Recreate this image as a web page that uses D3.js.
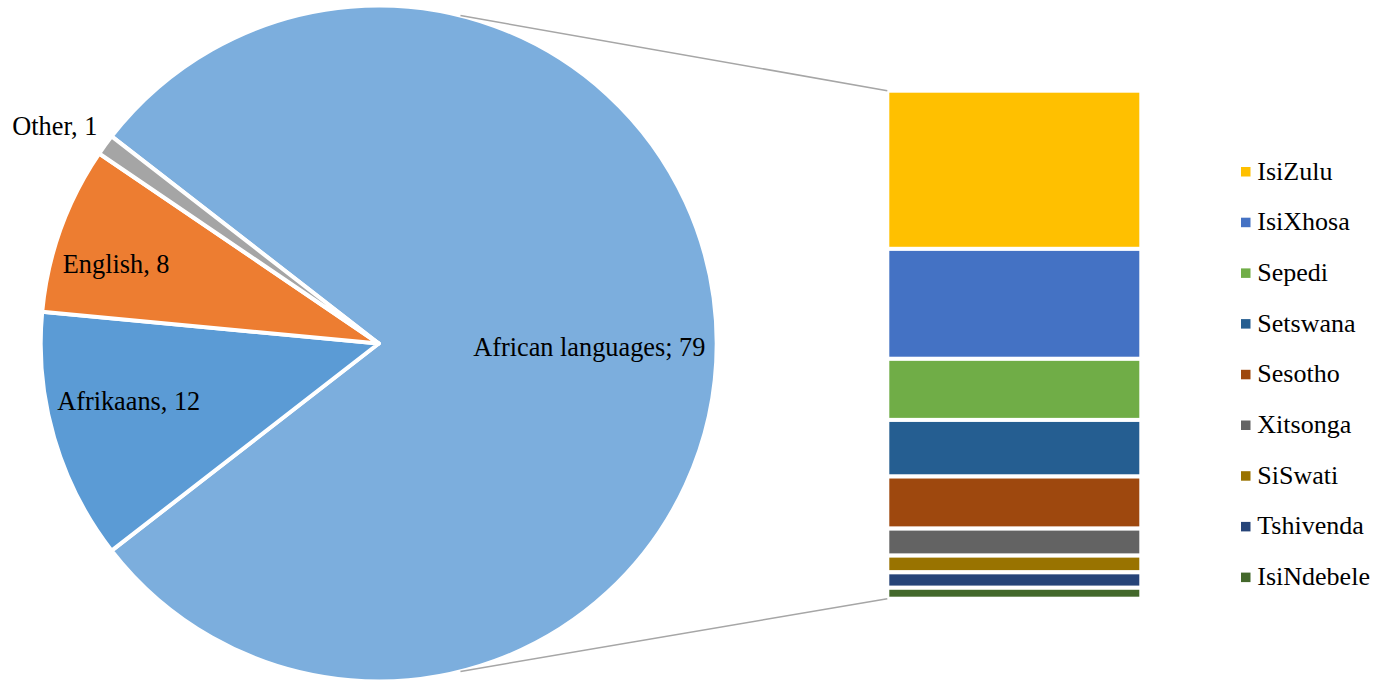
<!DOCTYPE html>
<html>
<head>
<meta charset="utf-8">
<script src="https://cdn.jsdelivr.net/npm/d3@7/dist/d3.min.js"></script>
<style>
  html, body { margin: 0; padding: 0; background: #fff; }
  svg { display: block; font-family: "Liberation Serif", "Times New Roman", serif; }
</style>
</head>
<body>
<svg id="chart" width="1378" height="681"></svg>
<script>
// Home language shares (%), main pie
const groups = ["African languages", "Afrikaans", "English", "Other"];
const groupValues = [79, 12, 8, 1];
const groupSeparators = [";", ",", ",", ","];
const groupColors = ["#7caedd", "#5b9bd5", "#ed7d31", "#a5a5a5"];

// Breakdown of the African languages slice, stacked bar
const languages = ["IsiZulu", "IsiXhosa", "Sepedi", "Setswana", "Sesotho", "Xitsonga", "SiSwati", "Tshivenda", "IsiNdebele"];
const languageValues = [24.6, 17.1, 9.5, 8.8, 8.1, 4.2, 2.6, 2.4, 1.7];
const languageColors = ["#ffc000", "#4472c4", "#70ad47", "#255e91", "#9e480e", "#636363", "#997300", "#264478", "#43682b"];

const svg = d3.select("#chart");

// ---- pie ----
const cx = 378.7, cy = 343.5, R = 338;
const africanShare = groupValues[0] / d3.sum(groupValues);
// rotate so the African slice is centred on 3 o'clock, facing the bar
const start = Math.PI / 2 - africanShare * Math.PI;
const pie = d3.pie().sort(null).value(d => d).startAngle(start).endAngle(start + 2 * Math.PI);
const arcs = pie(groupValues);
const arc = d3.arc().innerRadius(0).outerRadius(R);

const gPie = svg.append("g").attr("transform", `translate(${cx},${cy})`);
gPie.selectAll("path").data(arcs).join("path")
  .attr("d", arc)
  .attr("fill", (d, i) => groupColors[i])
  .attr("stroke", "#fff")
  .attr("stroke-width", 4)
  .attr("stroke-linejoin", "round");

// label placement: radius factor, angular nudge (deg), anchor
const labelPlace = [
  { k: 0.623, da: 0, anchor: "middle" },
  { k: 0.757, da: 3.9, anchor: "middle" },
  { k: 0.815, da: -2.2, anchor: "middle" },
  { k: 1.059, da: 2.2, anchor: "end" }
];
gPie.selectAll("text").data(arcs).join("text")
  .each(function (d, i) {
    const p = labelPlace[i];
    const a = (d.startAngle + d.endAngle) / 2 + p.da * Math.PI / 180;
    d3.select(this)
      .attr("x", Math.sin(a) * R * p.k)
      .attr("y", -Math.cos(a) * R * p.k)
      .attr("text-anchor", p.anchor);
  })
  .attr("dy", "0.47em")
  .attr("font-size", 26.3)
  .attr("fill", "#000")
  .text((d, i) => `${groups[i]}${groupSeparators[i]} ${groupValues[i]}`);

// ---- stacked bar ----
const barX = 887.3, barW = 254;
const y = d3.scaleLinear().domain([0, d3.sum(languageValues)]).range([90.7, 598.7]);
const stacked = [];
let acc = 0;
languageValues.forEach((v, i) => { stacked.push({ i, y0: acc, y1: acc + v }); acc += v; });

svg.append("g").selectAll("rect").data(stacked).join("rect")
  .attr("x", barX)
  .attr("width", barW)
  .attr("y", d => y(d.y0))
  .attr("height", d => y(d.y1) - y(d.y0))
  .attr("fill", d => languageColors[d.i])
  .attr("stroke", "#fff")
  .attr("stroke-width", 4);

// ---- connector lines from the African slice to the bar ----
const joinAngle = 14 * Math.PI / 180;
const connectors = [
  { x1: cx + Math.sin(joinAngle) * R, y1: cy - Math.cos(joinAngle) * R, x2: barX, y2: y(0) },
  { x1: cx + Math.sin(Math.PI - joinAngle) * R, y1: cy - Math.cos(Math.PI - joinAngle) * R, x2: barX, y2: y(d3.sum(languageValues)) }
];
svg.append("g").selectAll("line").data(connectors).join("line")
  .attr("x1", d => d.x1).attr("y1", d => d.y1)
  .attr("x2", d => d.x2).attr("y2", d => d.y2)
  .attr("stroke", "#a6a6a6")
  .attr("stroke-width", 1.5);

// ---- legend ----
const legend = svg.append("g").attr("transform", "translate(1241,179.5)");
const items = legend.selectAll("g").data(languages).join("g")
  .attr("transform", (d, i) => `translate(0,${i * 50.7})`);
items.append("rect")
  .attr("x", 0).attr("y", -12.5)
  .attr("width", 9.5).attr("height", 9.5)
  .attr("fill", (d, i) => languageColors[i]);
items.append("text")
  .attr("x", 16.3).attr("y", 0)
  .attr("font-size", 26)
  .attr("fill", "#000")
  .text(d => d);
</script>
</body>
</html>
